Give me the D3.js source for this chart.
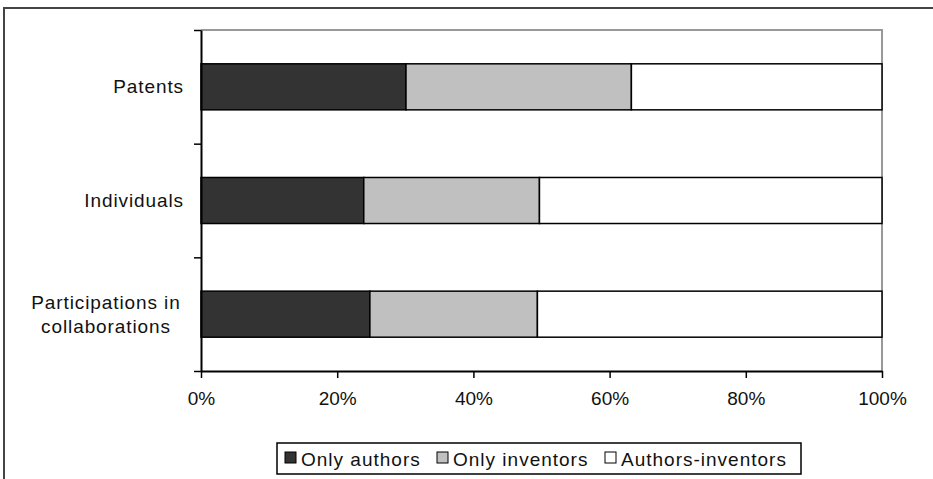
<!DOCTYPE html>
<html>
<head>
<meta charset="utf-8">
<script src="https://cdn.jsdelivr.net/npm/d3@7"></script>
<style>
  html, body { margin: 0; padding: 0; background: #fff; }
  svg { display: block; font-family: "Liberation Sans", Arial, sans-serif; }
</style>
</head>
<body>
<svg id="chart" width="933" height="479"></svg>
<script>
// categories, top to bottom
const categories = [["Patents"], ["Individuals"], ["Participations in", "collaborations"]];
const seriesNames = ["Only authors", "Only inventors", "Authors-inventors"];
// shares (%)
const onlyAuthors = [30.1, 23.9, 24.8];
const onlyInventors = [33.1, 25.8, 24.6];
const authorsInventors = [36.8, 50.3, 50.6];
const tickLabels = [0, 20, 40, 60, 80, 100];

const colors = ["#333333", "#c0c0c0", "#ffffff"];

const svg = d3.select("#chart");
const margin = { top: 30, left: 201, right: 51, bottom: 108 };
const width = 933 - margin.left - margin.right;
const height = 479 - margin.top - margin.bottom;

// outer chart frame
svg.append("rect")
  .attr("x", 4).attr("y", 8)
  .attr("width", 960).attr("height", 500)
  .attr("fill", "none")
  .attr("stroke", "#444")
  .attr("stroke-width", 2);

const g = svg.append("g")
  .attr("transform", `translate(${margin.left},${margin.top})`);

const x = d3.scaleLinear().domain([0, 100]).range([0, width]);
const y = d3.scaleBand()
  .domain(categories.map((d, i) => i))
  .range([0, height])
  .paddingInner(0.595)
  .paddingOuter(0.2975);

// plot area border (top/right in grey)
g.append("path")
  .attr("d", `M0,0H${width}V${height}`)
  .attr("fill", "none")
  .attr("stroke", "#999")
  .attr("stroke-width", 2);

// stack the data
const rows = categories.map((c, i) => ({
  i: i,
  vals: [onlyAuthors[i], onlyInventors[i], authorsInventors[i]]
}));

rows.forEach(r => {
  let acc = 0;
  r.vals.forEach((v, k) => {
    g.append("rect")
      .attr("x", x(acc))
      .attr("y", y(r.i))
      .attr("width", x(acc + v) - x(acc))
      .attr("height", y.bandwidth())
      .attr("fill", colors[k])
      .attr("stroke", "#000")
      .attr("stroke-width", 1.5);
    acc += v;
  });
});

// x axis
const xAxis = g.append("g")
  .attr("transform", `translate(0,${height})`)
  .call(d3.axisBottom(x)
    .tickValues(tickLabels)
    .tickFormat(d => d + "%")
    .tickSizeInner(7)
    .tickSizeOuter(0)
    .tickPadding(14));
xAxis.select(".domain").attr("stroke", "#000").attr("stroke-width", 2);
xAxis.selectAll(".tick line").attr("stroke", "#000").attr("stroke-width", 1.5);
xAxis.selectAll(".tick text")
  .attr("font-size", 19)
  .attr("fill", "#111")
  .attr("font-family", "Liberation Sans, Arial, sans-serif");

// y axis: ticks between categories
const yb = d3.scaleLinear().domain([0, categories.length]).range([0, height]);
const yAxis = g.append("g")
  .call(d3.axisLeft(yb)
    .tickValues(d3.range(categories.length + 1))
    .tickFormat("")
    .tickSizeInner(7)
    .tickSizeOuter(0));
yAxis.select(".domain").attr("stroke", "#000").attr("stroke-width", 2);
yAxis.selectAll(".tick line").attr("stroke", "#000").attr("stroke-width", 1.5);

// category labels
categories.forEach((lines, i) => {
  const cy = y(i) + y.bandwidth() / 2;
  const lh = 24;
  const t = g.append("text")
    .attr("font-size", 19)
    .attr("letter-spacing", 0.9)
    .attr("fill", "#111")
    .attr("text-anchor", lines.length > 1 ? "middle" : "end");
  lines.forEach((ln, k) => {
    t.append("tspan")
      .attr("x", lines.length > 1 ? -95 : -17)
      .attr("y", cy + (k - (lines.length - 1) / 2) * lh)
      .attr("dy", "0.35em")
      .text(ln);
  });
});

// legend
const legend = svg.append("g").attr("transform", "translate(277,443)");
legend.append("rect")
  .attr("width", 524).attr("height", 31)
  .attr("fill", "#fff")
  .attr("stroke", "#000")
  .attr("stroke-width", 1.5);

const itemX = [8, 160, 328];
seriesNames.forEach((name, k) => {
  const it = legend.append("g").attr("transform", `translate(${itemX[k]},0)`);
  it.append("rect")
    .attr("x", 0).attr("y", 9)
    .attr("width", 11).attr("height", 11)
    .attr("fill", colors[k])
    .attr("stroke", "#000")
    .attr("stroke-width", 1);
  it.append("text")
    .attr("x", 16).attr("y", 16)
    .attr("dy", "0.35em")
    .attr("font-size", 19)
    .attr("letter-spacing", 1)
    .attr("fill", "#111")
    .text(name);
});
</script>
</body>
</html>
